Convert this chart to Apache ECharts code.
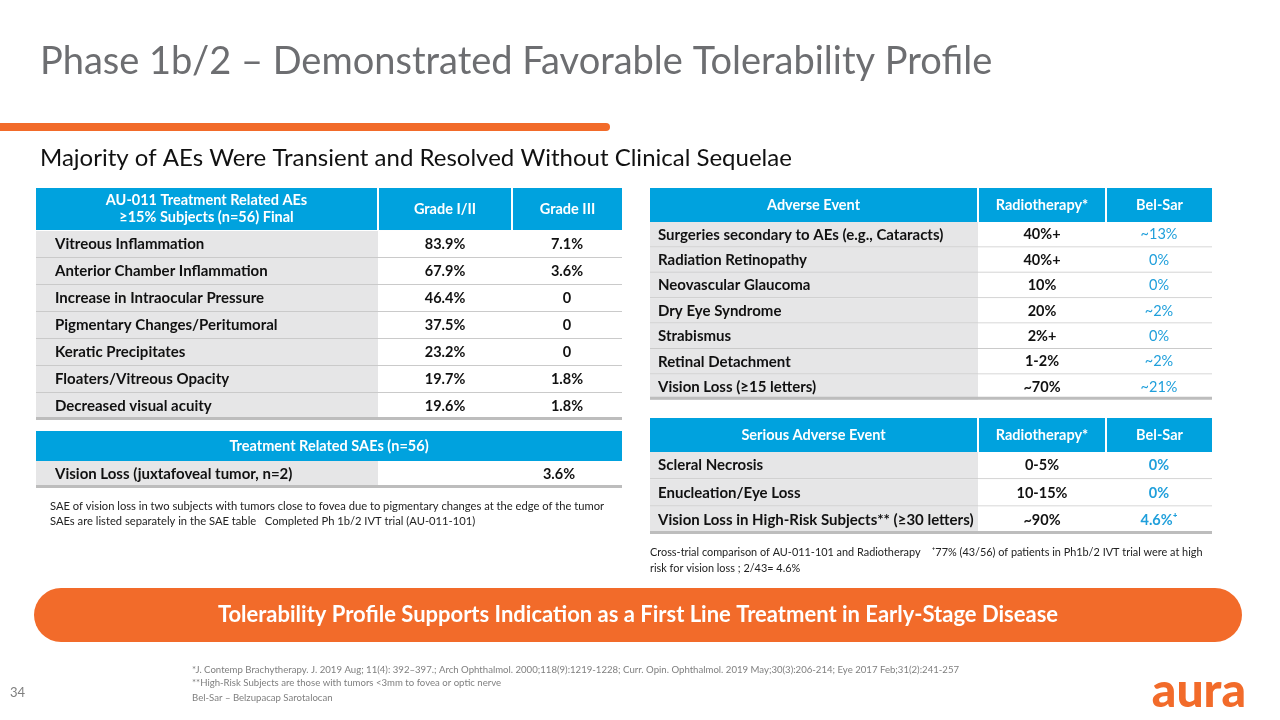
<!DOCTYPE html>
<html><head><meta charset="utf-8">
<script src="https://cdn.jsdelivr.net/npm/echarts@6/dist/echarts.min.js"></script>
<style>html,body{margin:0;padding:0;background:#fff}#c{width:1280px;height:720px}</style>
</head><body><div id="c"></div>
<script>
// ---------- text ----------
const slideTitle = 'Phase 1b/2 – Demonstrated Favorable Tolerability Profile';
const slideSubtitle = 'Majority of AEs Were Transient and Resolved Without Clinical Sequelae';
const bannerText = 'Tolerability Profile Supports Indication as a First Line Treatment in Early-Stage Disease';

// ---------- table 1: treatment related AEs ----------
const aeHeaders = ['AU-011 Treatment Related AEs\n≥15% Subjects (n=56) Final', 'Grade I/II', 'Grade III'];
const aeEvents = ['Vitreous Inflammation', 'Anterior Chamber Inflammation', 'Increase in Intraocular Pressure',
  'Pigmentary Changes/Peritumoral', 'Keratic Precipitates', 'Floaters/Vitreous Opacity', 'Decreased visual acuity'];
const aeGrade12 = ['83.9%', '67.9%', '46.4%', '37.5%', '23.2%', '19.7%', '19.6%'];
const aeGrade3 = ['7.1%', '3.6%', '0', '0', '0', '1.8%', '1.8%'];

// ---------- table 2: treatment related SAEs ----------
const saeHeaders = ['Treatment Related SAEs (n=56)'];
const saeEvents = ['Vision Loss (juxtafoveal tumor, n=2)'];
const saeBlank = [''];
const saeValues = ['3.6%'];
const saeNotes = ['SAE of vision loss in two subjects with tumors close to fovea due to pigmentary changes at the edge of the tumor',
  'SAEs are listed separately in the SAE table   Completed Ph 1b/2 IVT trial (AU-011-101)'];

// ---------- table 3: adverse events comparison ----------
const cmpHeaders = ['Adverse Event', 'Radiotherapy*', 'Bel-Sar'];
const cmpEvents = ['Surgeries secondary to AEs (e.g., Cataracts)', 'Radiation Retinopathy', 'Neovascular Glaucoma',
  'Dry Eye Syndrome', 'Strabismus', 'Retinal Detachment', 'Vision Loss (≥15 letters)'];
const cmpRadiotherapy = ['40%+', '40%+', '10%', '20%', '2%+', '1-2%', '~70%'];
const cmpBelSar = ['~13%', '0%', '0%', '~2%', '0%', '~2%', '~21%'];

// ---------- table 4: serious adverse events comparison ----------
const seriousHeaders = ['Serious Adverse Event', 'Radiotherapy*', 'Bel-Sar'];
const seriousEvents = ['Scleral Necrosis', 'Enucleation/Eye Loss', 'Vision Loss in High-Risk Subjects** (≥30 letters)'];
const seriousRadiotherapy = ['0-5%', '10-15%', '~90%'];
const seriousBelSar = ['0%', '0%', '4.6%⁺'];
const seriousNotes = ['Cross-trial comparison of AU-011-101 and Radiotherapy    ⁺77% (43/56) of patients in Ph1b/2 IVT trial were at high',
  'risk for vision loss ; 2/43= 4.6%'];

// ---------- footer ----------
const footnotes = ['*J. Contemp Brachytherapy. J. 2019 Aug; 11(4): 392–397.; Arch Ophthalmol. 2000;118(9):1219-1228; Curr. Opin. Ophthalmol. 2019 May;30(3):206-214; Eye 2017 Feb;31(2):241-257',
  '**High-Risk Subjects are those with tumors <3mm to fovea or optic nerve'];
const footerName = 'Bel-Sar – Belzupacap Sarotalocan';
const pageNumber = '34';
const logoText = 'aura';

// ---------- style ----------
const FONT = 'Lato, "Open Sans", sans-serif';
const BLUE = '#00A2DE', GRAY = '#E6E6E7', LINE = '#CACACA', BORDER = '#BDBDBD';
const ORANGE = '#F26B2A', VALBLUE = '#1F9FDB', TITLEGRAY = '#6D6E71', NOTEGRAY = '#7F7F7F';

const tables = [
  {left: 36, top: 231, width: 586, rowH: 27, pad: 19, edges: [0, 342, 476, 586],
   headerTop: 188, headerH: 42, headers: aeHeaders, headerEdges: [0, 342, 476, 586],
   columns: [aeEvents, aeGrade12, aeGrade3], styles: ['event', 'value', 'value']},
  {left: 36, top: 461, width: 586, rowH: 27, pad: 19, edges: [0, 342, 460, 586],
   headerTop: 431, headerH: 30, headers: saeHeaders, headerEdges: [0, 586],
   columns: [saeEvents, saeBlank, saeValues], styles: ['event', 'value', 'value']},
  {left: 650, top: 222, width: 562, rowH: 25.4, pad: 8, edges: [0, 328, 456, 562],
   headerTop: 188, headerH: 34, headers: cmpHeaders, headerEdges: [0, 328, 456, 562],
   columns: [cmpEvents, cmpRadiotherapy, cmpBelSar], styles: ['event', 'value', 'blue']},
  {left: 650, top: 452, width: 562, rowH: 27.3, pad: 8, edges: [0, 328, 456, 562],
   headerTop: 418, headerH: 34, headers: seriousHeaders, headerEdges: [0, 328, 456, 562],
   columns: [seriousEvents, seriousRadiotherapy, seriousBelSar], styles: ['event', 'value', 'blueBold']}
];

const cellText = {
  event: {fill: '#111', fontWeight: 'bold', fontSize: 15, align: 'left'},
  value: {fill: '#111', fontWeight: 'bold', fontSize: 14.5, align: 'center'},
  blue: {fill: VALBLUE, fontWeight: 'normal', fontSize: 14.5, align: 'center'},
  blueBold: {fill: VALBLUE, fontWeight: 'bold', fontSize: 14.5, align: 'center'}
};

function makeRender(t) {
  const n = t.columns[0].length;
  return function (params, api) {
    const c = api.value(0), r = api.value(1);
    const p0 = api.coord([t.edges[c], r]);
    const p1 = api.coord([t.edges[c + 1], r]);
    const h = api.size([0, 1])[1];
    const y0 = p0[1] - h / 2;
    const w = p1[0] - p0[0];
    const last = r === n - 1;
    const st = cellText[t.styles[c]];
    return {
      type: 'group',
      children: [
        {type: 'rect', shape: {x: p0[0], y: y0, width: w, height: h}, style: {fill: c === 0 ? GRAY : '#fff'}},
        {type: 'rect', shape: {x: p0[0], y: y0 + h - (last ? 3 : 1), width: w, height: last ? 3 : 1},
         style: {fill: last ? BORDER : LINE}},
        {type: 'text', x: c === 0 ? p0[0] + t.pad : p0[0] + w / 2, y: p0[1],
         style: {text: t.columns[c][r], fill: st.fill, font: st.fontWeight + ' ' + st.fontSize + 'px ' + FONT,
                 align: st.align, verticalAlign: 'middle'}}
      ]
    };
  };
}

const grid = [], xAxis = [], yAxis = [], series = [], graphic = [];
tables.forEach((t, i) => {
  const n = t.columns[0].length;
  grid.push({left: t.left, top: t.top, width: t.width, height: t.rowH * n});
  xAxis.push({type: 'value', gridIndex: i, min: 0, max: t.width, show: false});
  yAxis.push({type: 'category', gridIndex: i, data: t.columns[0], inverse: true, show: false});
  const data = [];
  for (let r = 0; r < n; r++) for (let c = 0; c < t.columns.length; c++) data.push([c, r]);
  series.push({type: 'custom', xAxisIndex: i, yAxisIndex: i, data, renderItem: makeRender(t), silent: true, clip: false});
  // header cells
  t.headers.forEach((h, k) => {
    const x0 = t.left + t.headerEdges[k] + (k > 0 ? 1 : 0);
    const x1 = t.left + t.headerEdges[k + 1] - (k < t.headers.length - 1 ? 1 : 0);
    graphic.push({type: 'rect', shape: {x: x0, y: t.headerTop, width: x1 - x0, height: t.headerH}, style: {fill: BLUE}, silent: true});
    graphic.push({type: 'text', x: (x0 + x1) / 2, y: t.headerTop + t.headerH / 2,
      style: {text: h, fill: '#fff', font: 'bold 14.5px ' + FONT, align: 'center', verticalAlign: 'middle', lineHeight: 17}, silent: true});
  });
});

// slide chrome
graphic.push(
  {type: 'text', x: 40, y: 62, style: {text: slideTitle, fill: TITLEGRAY, font: '38px ' + FONT, verticalAlign: 'middle'}},
  {type: 'rect', shape: {x: -10, y: 123, width: 620, height: 8, r: 4}, style: {fill: ORANGE}},
  {type: 'text', x: 40, y: 158, style: {text: slideSubtitle, fill: '#111', font: '24px ' + FONT, verticalAlign: 'middle'}},
  {type: 'text', x: 50, y: 506, style: {text: saeNotes[0], fill: '#222', font: '11.2px ' + FONT, verticalAlign: 'middle'}},
  {type: 'text', x: 50, y: 521, style: {text: saeNotes[1], fill: '#222', font: '11.2px ' + FONT, verticalAlign: 'middle'}},
  {type: 'text', x: 650, y: 552, style: {text: seriousNotes[0], fill: '#222', font: '10.9px ' + FONT, verticalAlign: 'middle'}},
  {type: 'text', x: 650, y: 568, style: {text: seriousNotes[1], fill: '#222', font: '10.9px ' + FONT, verticalAlign: 'middle'}},
  {type: 'rect', shape: {x: 34, y: 588, width: 1208, height: 54, r: 27}, style: {fill: ORANGE}},
  {type: 'text', x: 638, y: 615, style: {text: bannerText, fill: '#fff', font: 'bold 22px ' + FONT, align: 'center', verticalAlign: 'middle'}},
  {type: 'text', x: 192, y: 670, style: {text: footnotes[0], fill: NOTEGRAY, font: '9.6px ' + FONT, verticalAlign: 'middle'}},
  {type: 'text', x: 192, y: 683, style: {text: footnotes[1], fill: NOTEGRAY, font: '9.6px ' + FONT, verticalAlign: 'middle'}},
  {type: 'text', x: 192, y: 698, style: {text: footerName, fill: NOTEGRAY, font: '9.6px ' + FONT, verticalAlign: 'middle'}},
  {type: 'text', x: 10, y: 693, style: {text: pageNumber, fill: NOTEGRAY, font: '13px ' + FONT, verticalAlign: 'middle'}},
  {type: 'text', x: 1246, y: 692, style: {text: logoText, fill: ORANGE, font: '900 48px ' + FONT, align: 'right', verticalAlign: 'middle'}}
);

const chart = echarts.init(document.getElementById('c'), null, {renderer: 'canvas'});
chart.setOption({animation: false, backgroundColor: '#fff', grid, xAxis, yAxis, series, graphic});
</script></body></html>
